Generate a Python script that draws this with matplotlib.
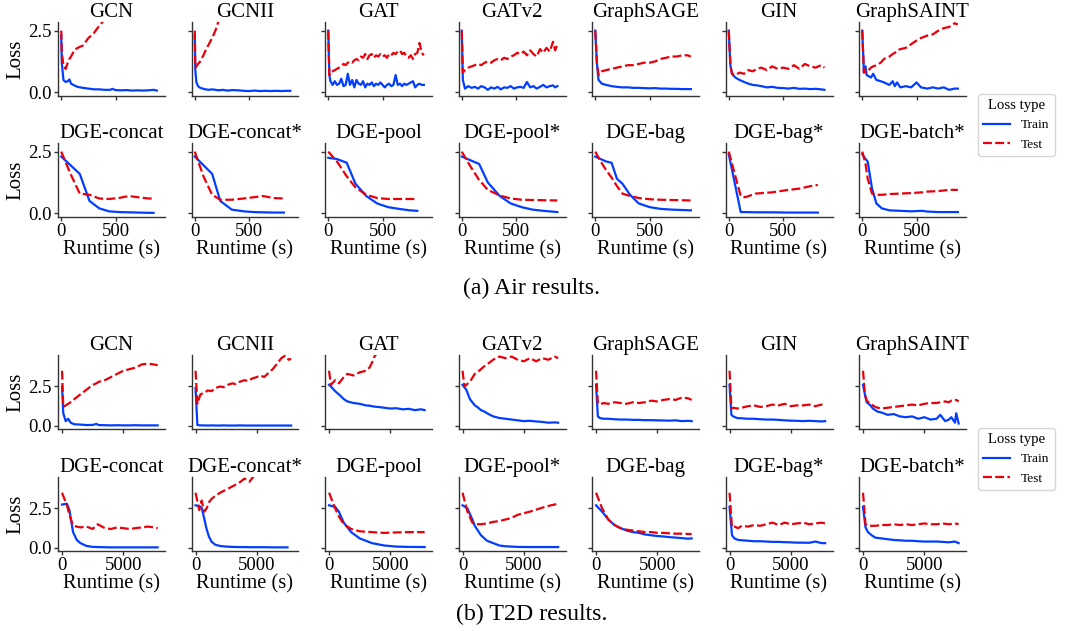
import matplotlib
matplotlib.use("Agg")
import matplotlib.pyplot as plt
from matplotlib.lines import Line2D

plt.rcParams['font.family'] = ['Liberation Serif', 'DejaVu Serif']

MODELS = ['GCN', 'GCNII', 'GAT', 'GATv2', 'GraphSAGE', 'GIN', 'GraphSAINT',
          'DGE-concat', 'DGE-concat*', 'DGE-pool', 'DGE-pool*', 'DGE-bag', 'DGE-bag*', 'DGE-batch*']
BLUE = '#023eff'
RED = '#e8000b'

# ---------------- Air (runtime in s, loss) ----------------
air_time = {
    'GCN': [0, 5, 20, 40, 60, 75, 90, 120, 150, 200, 250, 300, 350, 400, 450, 470, 500, 550, 600, 650, 700, 750, 800, 850, 880],
    'GCNII': [0, 5, 15, 30, 50, 80, 100, 130, 160, 190, 220, 260, 300, 350, 400, 450, 500, 550, 600, 650, 700, 750, 800, 850, 880],
    'GAT': [0, 10, 20, 40, 60, 80, 100, 120, 140, 160, 180, 200, 220, 240, 260, 280, 300, 320, 340, 360, 380, 400, 420,
            440, 460, 480, 500, 520, 540, 560, 580, 600, 620, 640, 660, 680, 700, 720, 740, 760, 780, 800, 820, 840, 860, 880],
    'GATv2': [0, 10, 30, 60, 90, 120, 150, 180, 210, 240, 270, 300, 330, 360, 390, 420, 450, 480, 510, 540, 570, 600,
              630, 660, 690, 720, 750, 780, 810, 840, 860, 880],
    'GraphSAGE': [0, 15, 30, 60, 100, 150, 200, 250, 300, 350, 400, 450, 500, 550, 600, 650, 700, 750, 800, 850, 880],
    'GIN': [0, 15, 30, 60, 100, 140, 180, 220, 260, 300, 350, 400, 450, 500, 550, 600, 650, 700, 750, 800, 850, 880],
    'GraphSAINT': [0, 15, 30, 40, 60, 80, 100, 130, 170, 200, 250, 280, 300, 320, 350, 400, 450, 500, 540, 600, 650,
                   700, 750, 800, 850, 880],
    'DGE-concat': [0, 85, 170, 260, 350, 440, 530, 620, 710, 800, 850],
    'DGE-concat*': [0, 80, 160, 235, 340, 450, 540, 630, 720, 820],
    'DGE-pool': [0, 80, 170, 250, 350, 450, 550, 650, 750, 820],
    'DGE-pool*': [0, 80, 160, 240, 350, 450, 550, 650, 750, 880],
    'DGE-bag': [0, 50, 100, 150, 200, 250, 320, 400, 500, 600, 700, 880],
    'DGE-bag*': [0, 110, 150, 250, 400, 550, 650, 750, 820],
    'DGE-batch*': [0, 30, 50, 90, 130, 180, 250, 350, 450, 550, 600, 700, 800, 880],
}
air_train = {
    'GCN': [2.3, 1.2, 0.5, 0.42, 0.45, 0.52, 0.35, 0.28, 0.22, 0.18, 0.15, 0.12, 0.12, 0.1, 0.1, 0.14, 0.09, 0.08,
            0.09, 0.07, 0.08, 0.07, 0.08, 0.1, 0.07],
    'GCNII': [2.3, 0.9, 0.4, 0.25, 0.18, 0.14, 0.12, 0.1, 0.12, 0.1, 0.08, 0.1, 0.07, 0.09, 0.08, 0.06, 0.05, 0.07,
              0.05, 0.06, 0.05, 0.06, 0.05, 0.06, 0.06],
    'GAT': [2.5, 0.7, 0.45, 0.3, 0.45, 0.3, 0.35, 0.55, 0.25, 0.3, 0.75, 0.3, 0.5, 0.2, 0.5, 0.35, 0.3, 0.45, 0.2,
            0.35, 0.3, 0.4, 0.25, 0.35, 0.3, 0.4, 0.3, 0.2, 0.3, 0.35, 0.25, 0.3, 0.7, 0.3, 0.35, 0.25, 0.35, 0.3,
            0.35, 0.4, 0.45, 0.2, 0.3, 0.35, 0.3, 0.3],
    'GATv2': [2.5, 0.5, 0.15, 0.25, 0.18, 0.22, 0.15, 0.25, 0.2, 0.1, 0.2, 0.15, 0.22, 0.12, 0.2, 0.18, 0.25, 0.15,
              0.2, 0.22, 0.18, 0.42, 0.2, 0.25, 0.15, 0.22, 0.3, 0.2, 0.25, 0.28, 0.2, 0.25],
    'GraphSAGE': [2.5, 1.2, 0.5, 0.35, 0.3, 0.25, 0.22, 0.2, 0.2, 0.18, 0.18, 0.17, 0.16, 0.17, 0.15, 0.15, 0.14,
                  0.14, 0.13, 0.13, 0.13],
    'GIN': [2.5, 1.1, 0.75, 0.6, 0.5, 0.42, 0.35, 0.3, 0.28, 0.25, 0.2, 0.22, 0.18, 0.17, 0.15, 0.18, 0.14, 0.15,
            0.13, 0.14, 0.12, 0.1],
    'GraphSAINT': [2.5, 0.8, 1.05, 0.7, 0.65, 0.6, 0.75, 0.5, 0.45, 0.4, 0.3, 0.45, 0.25, 0.4, 0.2, 0.25, 0.2, 0.4,
                   0.2, 0.15, 0.2, 0.15, 0.2, 0.1, 0.15, 0.15],
    'DGE-concat': [2.3, 1.95, 1.6, 0.5, 0.2, 0.08, 0.05, 0.04, 0.03, 0.02, 0.02],
    'DGE-concat*': [2.3, 1.95, 1.6, 0.5, 0.15, 0.08, 0.05, 0.04, 0.03, 0.03],
    'DGE-pool': [2.25, 2.2, 2.05, 1.2, 0.7, 0.4, 0.25, 0.18, 0.12, 0.1],
    'DGE-pool*': [2.3, 2.15, 2.0, 1.25, 0.7, 0.4, 0.25, 0.15, 0.1, 0.05],
    'DGE-bag': [2.3, 2.2, 2.1, 2.05, 1.4, 1.2, 0.75, 0.4, 0.25, 0.18, 0.15, 0.12],
    'DGE-bag*': [2.4, 0.05, 0.05, 0.04, 0.04, 0.03, 0.03, 0.03, 0.03],
    'DGE-batch*': [2.4, 2.2, 2.1, 1.0, 0.4, 0.2, 0.12, 0.1, 0.08, 0.1, 0.07, 0.05, 0.05, 0.05],
}
air_test = {
    'GCN': [2.5, 1.6, 1.1, 0.95, 1.2, 1.35, 1.45, 1.7, 1.8, 1.9, 2.2, 2.4, 2.7, 2.95, 3.1, 3.2, 3.3, 3.4, 3.55, 3.6,
            3.7, 3.8, 3.85, 3.9, 4.0],
    'GCNII': [2.5, 1.0, 1.05, 1.15, 1.25, 1.5, 1.7, 1.95, 2.2, 2.5, 2.9, 3.2, 3.5, 3.7, 3.9, 4.0, 4.1, 4.2, 4.3, 4.4,
              4.4, 4.5, 4.6, 4.6, 4.7],
    'GAT': [2.5, 0.7, 0.8, 0.85, 0.9, 0.95, 1.0, 1.05, 1.15, 1.1, 1.2, 1.25, 1.2, 1.3, 1.35, 1.3, 1.45, 1.4, 1.55,
            1.35, 1.5, 1.55, 1.4, 1.5, 1.45, 1.55, 1.45, 1.5, 1.4, 1.55, 1.5, 1.6, 1.55, 1.65, 1.7, 1.55, 1.6, 1.45,
            1.4, 1.5, 1.35, 1.55, 1.6, 2.0, 1.6, 1.5],
    'GATv2': [2.5, 0.8, 0.9, 1.0, 1.05, 1.1, 1.15, 1.1, 1.2, 1.25, 1.2, 1.3, 1.35, 1.3, 1.4, 1.35, 1.45, 1.5, 1.6,
              1.55, 1.65, 1.5, 1.7, 1.55, 1.45, 1.75, 1.6, 1.8, 1.65, 2.05, 1.7, 1.95],
    'GraphSAGE': [2.5, 1.2, 0.7, 0.85, 0.9, 0.95, 1.0, 1.05, 1.1, 1.1, 1.15, 1.2, 1.2, 1.25, 1.35, 1.4, 1.45, 1.45,
                  1.5, 1.5, 1.45],
    'GIN': [2.5, 1.1, 0.75, 0.7, 0.8, 0.75, 0.9, 0.85, 0.95, 1.0, 0.9, 1.05, 0.95, 1.0, 0.95, 1.1, 0.95, 1.15, 1.05,
            1.0, 1.1, 1.0],
    'GraphSAINT': [2.5, 0.8, 0.85, 0.8, 0.9, 1.0, 1.05, 1.1, 1.2, 1.35, 1.45, 1.55, 1.6, 1.7, 1.75, 1.8, 1.95, 2.1,
                   2.2, 2.3, 2.35, 2.5, 2.6, 2.65, 2.8, 2.75],
    'DGE-concat': [2.5, 1.6, 0.8, 0.75, 0.6, 0.58, 0.62, 0.7, 0.65, 0.6, 0.6],
    'DGE-concat*': [2.5, 1.5, 0.75, 0.55, 0.55, 0.6, 0.65, 0.7, 0.62, 0.6],
    'DGE-pool': [2.5, 2.1, 1.5, 1.05, 0.75, 0.62, 0.58, 0.58, 0.58, 0.58],
    'DGE-pool*': [2.5, 1.9, 1.35, 0.95, 0.72, 0.6, 0.55, 0.54, 0.53, 0.52],
    'DGE-bag': [2.5, 2.1, 1.75, 1.45, 1.1, 0.8, 0.7, 0.62, 0.57, 0.55, 0.54, 0.52],
    'DGE-bag*': [2.5, 0.7, 0.65, 0.8, 0.85, 0.95, 1.0, 1.1, 1.15],
    'DGE-batch*': [2.5, 2.0, 1.4, 0.8, 0.75, 0.75, 0.78, 0.8, 0.82, 0.85, 0.88, 0.9, 0.95, 0.95],
}

# ---------------- T2D ----------------
t_a = [0, 150, 300, 600, 1000, 1500, 2000, 2500, 3000, 3500, 4000, 4500, 5000, 5500, 6000, 6500, 7000, 7500, 7800]
t_b = [0, 200, 400, 700, 1000, 1500, 2000, 2500, 3000, 3500, 4000, 4500, 5000, 5500, 6000, 6500, 7000, 7500, 7800]
t2d_time = {
    'GCN': [0, 100, 300, 500, 700, 1000, 1500, 2000, 2500, 2800, 3000, 3500, 4000, 4500, 5000, 5500, 6000, 6500,
            7000, 7500, 7800],
    'GCNII': [0, 150, 400, 700, 1000, 1300, 1600, 2000, 2300, 2600, 3000, 3300, 3600, 4000, 4300, 4600, 5000, 5300,
              5600, 6000, 6300, 6600, 7000, 7300, 7600, 7800],
    'GAT': [0, 150, 500, 800, 1200, 1500, 2000, 2500, 3000, 3300, 3500, 3700, 4000, 4500, 5000, 5500, 6000, 6500,
            7000, 7500, 7800],
    'GATv2': [0, 150, 300, 600, 1000, 1200, 1500, 1800, 2000, 2500, 3000, 3500, 4000, 4500, 5000, 5500, 6000, 6500,
              7000, 7500, 7800],
    'GraphSAGE': t_a,
    'GIN': t_a,
    'GraphSAINT': [0, 150, 300, 600, 800, 1000, 1200, 1500, 2000, 2500, 3000, 3500, 4000, 4500, 5000, 5500, 6000,
                   6300, 6700, 7000, 7200, 7500, 7600, 7800],
    'DGE-concat': [0, 400, 600, 900, 1200, 1500, 2000, 2500, 2900, 3500, 4000, 4500, 5000, 5500, 6000, 6500, 7000,
                   7500, 7800],
    'DGE-concat*': [0, 300, 500, 700, 900, 1100, 1300, 1600, 2000, 2500, 3000, 3500, 4000, 4400, 4800, 5500, 6500,
                    7500],
    'DGE-pool': [0, 500, 800, 1200, 1800, 2500, 3500, 4500, 5500, 6500, 7800],
    'DGE-pool*': [0, 400, 800, 1000, 1500, 2000, 2500, 3000, 3500, 4000, 4500, 5500, 6500, 7200, 7800],
    'DGE-bag': [0, 500, 1000, 1500, 2000, 2500, 3000, 3500, 4000, 4500, 5000, 5500, 6000, 6500, 7000, 7500, 7800],
    'DGE-bag*': t_b,
    'DGE-batch*': t_b,
}
t2d_train = {
    'GCN': [2.5, 0.8, 0.3, 0.45, 0.2, 0.1, 0.08, 0.05, 0.06, 0.12, 0.05, 0.04, 0.03, 0.04, 0.03, 0.03, 0.04, 0.03,
            0.03, 0.03, 0.03],
    'GCNII': [2.4, 0.05, 0.03, 0.03, 0.02, 0.03, 0.02, 0.02, 0.03, 0.02, 0.02, 0.02, 0.03, 0.02, 0.02, 0.02, 0.02,
              0.02, 0.02, 0.02, 0.02, 0.02, 0.02, 0.02, 0.02, 0.02],
    'GAT': [2.6, 2.5, 2.2, 2.0, 1.7, 1.55, 1.45, 1.4, 1.3, 1.28, 1.25, 1.22, 1.2, 1.15, 1.1, 1.12, 1.05, 1.08, 1.0,
            1.05, 1.0],
    'GATv2': [2.6, 2.45, 2.3, 1.7, 1.3, 1.2, 1.0, 0.9, 0.8, 0.6, 0.5, 0.45, 0.4, 0.35, 0.3, 0.32, 0.28, 0.25, 0.2,
              0.22, 0.2],
    'GraphSAGE': [2.6, 0.6, 0.5, 0.45, 0.45, 0.42, 0.4, 0.4, 0.38, 0.38, 0.36, 0.36, 0.35, 0.34, 0.33, 0.35, 0.3,
                  0.32, 0.3],
    'GIN': [2.6, 0.7, 0.6, 0.5, 0.48, 0.45, 0.45, 0.42, 0.4, 0.4, 0.38, 0.35, 0.33, 0.32, 0.3, 0.32, 0.3, 0.28, 0.3],
    'GraphSAINT': [2.6, 2.0, 1.5, 1.3, 1.1, 1.0, 0.9, 0.85, 0.7, 0.75, 0.6, 0.55, 0.6, 0.45, 0.55, 0.4, 0.45, 0.7,
                   0.3, 0.4, 0.55, 0.2, 0.8, 0.15],
    'DGE-concat': [2.75, 2.8, 2.4, 1.0, 0.5, 0.3, 0.12, 0.06, 0.05, 0.04, 0.03, 0.03, 0.03, 0.03, 0.03, 0.03, 0.03,
                   0.03, 0.03],
    'DGE-concat*': [2.7, 2.65, 2.55, 1.9, 1.2, 0.7, 0.4, 0.2, 0.12, 0.08, 0.06, 0.05, 0.05, 0.04, 0.04, 0.04, 0.03,
                    0.03],
    'DGE-pool': [2.7, 2.6, 2.3, 1.6, 1.0, 0.6, 0.3, 0.15, 0.08, 0.06, 0.05],
    'DGE-pool*': [2.7, 2.5, 1.8, 1.4, 0.8, 0.45, 0.3, 0.15, 0.1, 0.08, 0.06, 0.05, 0.05, 0.05, 0.05],
    'DGE-bag': [2.7, 2.3, 1.8, 1.45, 1.25, 1.1, 1.0, 0.95, 0.85, 0.8, 0.75, 0.72, 0.68, 0.65, 0.62, 0.58, 0.6],
    'DGE-bag*': [2.6, 0.8, 0.6, 0.5, 0.48, 0.45, 0.42, 0.42, 0.4, 0.38, 0.38, 0.36, 0.35, 0.33, 0.33, 0.32, 0.4,
                 0.3, 0.3],
    'DGE-batch*': [2.6, 1.3, 1.0, 0.8, 0.65, 0.6, 0.55, 0.5, 0.48, 0.45, 0.45, 0.42, 0.4, 0.4, 0.4, 0.38, 0.35, 0.4,
                   0.3],
}
t2d_test = {
    'GCN': [3.5, 1.2, 1.3, 1.4, 1.5, 1.7, 2.0, 2.3, 2.6, 2.7, 2.8, 2.9, 3.1, 3.3, 3.5, 3.6, 3.7, 3.9, 3.95, 3.9, 3.85],
    'GCNII': [3.5, 1.4, 2.0, 2.1, 2.25, 2.2, 2.4, 2.5, 2.45, 2.6, 2.7, 2.65, 2.8, 2.9, 2.85, 3.0, 3.1, 3.2, 3.1,
              3.4, 3.6, 3.9, 4.3, 4.45, 4.2, 4.25],
    'GAT': [3.5, 2.6, 2.9, 2.7, 3.1, 3.3, 3.2, 3.4, 3.5, 3.7, 4.0, 4.4, 4.7, 4.9, 5.0, 5.1, 5.2, 5.3, 5.4, 5.5, 5.6],
    'GATv2': [3.5, 2.5, 2.6, 2.8, 3.3, 3.4, 3.6, 3.8, 3.9, 4.2, 4.4, 4.3, 4.4, 4.2, 4.1, 4.3, 4.1, 4.3, 4.2, 4.4, 4.3],
    'GraphSAGE': [3.5, 1.4, 1.35, 1.45, 1.4, 1.5, 1.45, 1.4, 1.5, 1.45, 1.5, 1.6, 1.55, 1.65, 1.7, 1.65, 1.8, 1.75,
                  1.65],
    'GIN': [3.5, 1.1, 1.15, 1.1, 1.15, 1.25, 1.3, 1.2, 1.25, 1.35, 1.3, 1.4, 1.25, 1.3, 1.3, 1.35, 1.25, 1.35, 1.25],
    'GraphSAINT': [3.5, 2.0, 1.6, 1.4, 1.3, 1.2, 1.15, 1.1, 1.15, 1.2, 1.25, 1.3, 1.35, 1.3, 1.4, 1.45, 1.45, 1.5,
                   1.55, 1.5, 1.6, 1.6, 1.65, 1.55],
    'DGE-concat': [3.5, 2.7, 2.1, 1.4, 1.35, 1.3, 1.35, 1.2, 1.5, 1.25, 1.2, 1.3, 1.25, 1.2, 1.25, 1.3, 1.35, 1.3,
                   1.25],
    'DGE-concat*': [3.5, 2.4, 3.0, 2.3, 2.5, 2.9, 3.1, 3.3, 3.5, 3.7, 3.9, 4.1, 4.4, 4.2, 4.6, 4.8, 5.0, 5.1],
    'DGE-pool': [3.5, 2.5, 2.0, 1.5, 1.2, 1.05, 1.0, 0.95, 0.98, 1.0, 1.0],
    'DGE-pool*': [3.5, 2.3, 1.6, 1.5, 1.5, 1.55, 1.65, 1.7, 1.8, 1.9, 2.1, 2.3, 2.55, 2.7, 2.8],
    'DGE-bag': [3.5, 2.5, 1.8, 1.45, 1.25, 1.15, 1.1, 1.05, 1.0, 1.0, 0.95, 0.95, 0.92, 0.9, 0.9, 0.88, 0.88],
    'DGE-bag*': [3.5, 1.3, 1.35, 1.25, 1.4, 1.35, 1.45, 1.4, 1.5, 1.6, 1.45, 1.6, 1.5, 1.55, 1.6, 1.5, 1.55, 1.6,
                 1.55],
    'DGE-batch*': [3.5, 1.5, 1.4, 1.4, 1.4, 1.45, 1.45, 1.5, 1.45, 1.5, 1.45, 1.5, 1.55, 1.5, 1.5, 1.55, 1.5, 1.55,
                   1.5],
}

W, H = 1065, 631
fig = plt.figure(figsize=(W / 100, H / 100), dpi=100)

col_x = [58 + 133.5 * i for i in range(7)]
AX_W, AX_H = 107, 74
SPINE = '#333333'


def draw_block(time, train, test, row_tops, xlim, ylim, xticks, legend_y, caption, caption_y):
    for k, m in enumerate(MODELS):
        r, c = divmod(k, 7)
        top = row_tops[r]
        ax = fig.add_axes([col_x[c] / W, 1 - (top + AX_H) / H, AX_W / W, AX_H / H])
        ax.plot(time[m], train[m], color=BLUE, lw=1.6)
        ax.plot(time[m], test[m], color=RED, lw=1.6, ls=(0, (4, 1.5)))
        ax.set_xlim(xlim)
        ax.set_ylim(ylim)
        ax.set_xticks(xticks)
        ax.set_yticks([0.0, 2.5])
        ax.set_yticklabels(['0.0', '2.5'])
        for s in ['top', 'right']:
            ax.spines[s].set_visible(False)
        for s in ['left', 'bottom']:
            ax.spines[s].set_color(SPINE)
            ax.spines[s].set_linewidth(1.0)
        ax.tick_params(length=3, width=1, color=SPINE, pad=1.5, labelsize=13.5)
        ax.set_title(m, fontsize=15, pad=3)
        if c == 0:
            ax.set_ylabel('Loss', fontsize=15, labelpad=2)
        else:
            ax.tick_params(labelleft=False)
        if r == 1:
            ax.set_xlabel('Runtime (s)', fontsize=14.75, labelpad=0)
        else:
            ax.tick_params(labelbottom=False)

    handles = [Line2D([], [], color=BLUE, lw=1.6),
               Line2D([], [], color=RED, lw=1.6, ls=(0, (4, 1.5)))]
    fig.legend(handles, ['Train', 'Test'], title='Loss type', loc='center left',
               bbox_to_anchor=(978 / W, 1 - legend_y / H), borderaxespad=0,
               fontsize=9.6, title_fontsize=10.6, handlelength=2.0, handletextpad=0.8,
               frameon=True, edgecolor='#cccccc', fancybox=True)
    fig.text(532 / W, 1 - caption_y / H, caption, ha='center', va='center', fontsize=17.2)


draw_block(air_time, air_train, air_test, [22, 143], (-30, 955), (-0.15, 2.85), [0, 500], 125,
           '(a) Air results.', 288)
draw_block(t2d_time, t2d_train, t2d_test, [355, 477], (-330, 8400), (-0.2, 4.5), [0, 5000], 459,
           '(b) T2D results.', 614)

fig.savefig('out.png', dpi=100)
